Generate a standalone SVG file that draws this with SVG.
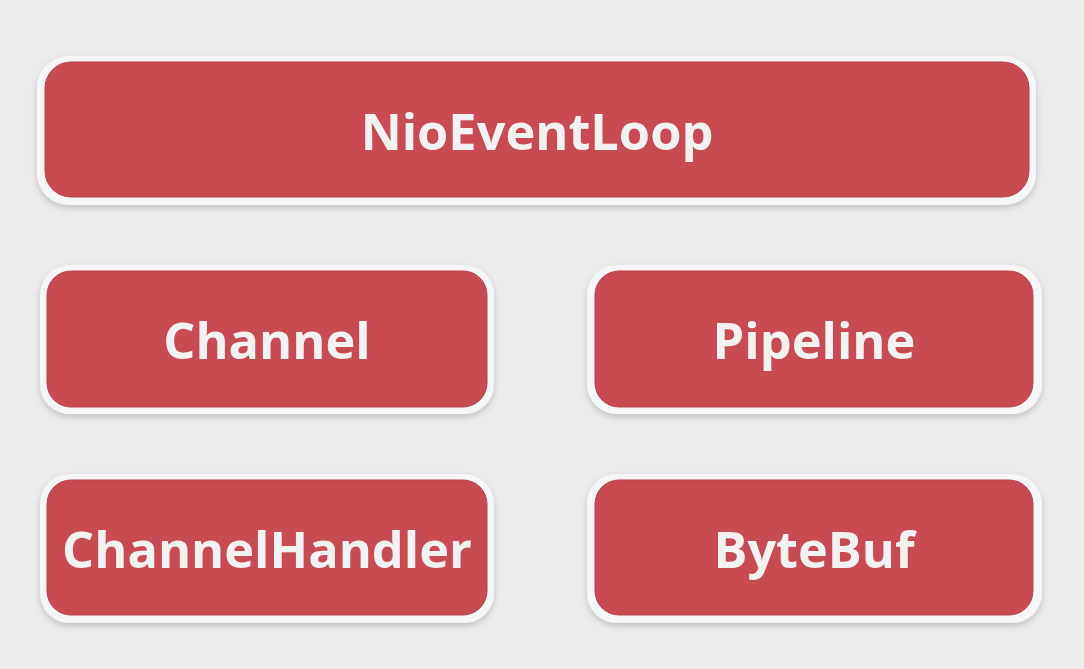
<svg xmlns="http://www.w3.org/2000/svg" width="1084" height="669" viewBox="0 0 1084 669">
<defs>
<filter id="sh" x="-10%" y="-20%" width="120%" height="150%">
<feDropShadow dx="0" dy="3" stdDeviation="3" flood-color="#000" flood-opacity="0.18"/>
</filter>
</defs>
<style>
.frame{fill:#f6f6f6;filter:url(#sh)}
.box{fill:#c84b51;stroke:#b8434a;stroke-width:1}
.lbl{font-family:"Open Sans","Noto Sans",sans-serif;font-weight:bold;font-size:50.5px;fill:#f4f1f1;text-anchor:middle;dominant-baseline:central}
</style>
<rect width="1084" height="669" fill="#ebebeb"/>
<g id="NioEventLoop">
<rect class="frame" x="37" y="56" width="999" height="149" rx="32"/>
<rect class="box" x="45" y="62" width="984" height="135" rx="26"/>
<text class="lbl" x="537" y="130">NioEventLoop</text>
</g>
<g id="Channel">
<rect class="frame" x="40" y="265" width="454" height="149" rx="30"/>
<rect class="box" x="47" y="271" width="440" height="136" rx="24"/>
<text class="lbl" x="267" y="339">Channel</text>
</g>
<g id="Pipeline">
<rect class="frame" x="587" y="265" width="455" height="149" rx="30"/>
<rect class="box" x="595" y="271" width="438" height="136" rx="24"/>
<text class="lbl" x="814" y="339">Pipeline</text>
</g>
<g id="ChannelHandler">
<rect class="frame" x="40" y="474" width="454" height="149" rx="30"/>
<rect class="box" x="47" y="480" width="440" height="135" rx="24"/>
<text class="lbl" x="267" y="548">ChannelHandler</text>
</g>
<g id="ByteBuf">
<rect class="frame" x="587" y="474" width="455" height="149" rx="30"/>
<rect class="box" x="595" y="480" width="438" height="135" rx="24"/>
<text class="lbl" x="814" y="548">ByteBuf</text>
</g>
<g id="connectors"></g>
</svg>
